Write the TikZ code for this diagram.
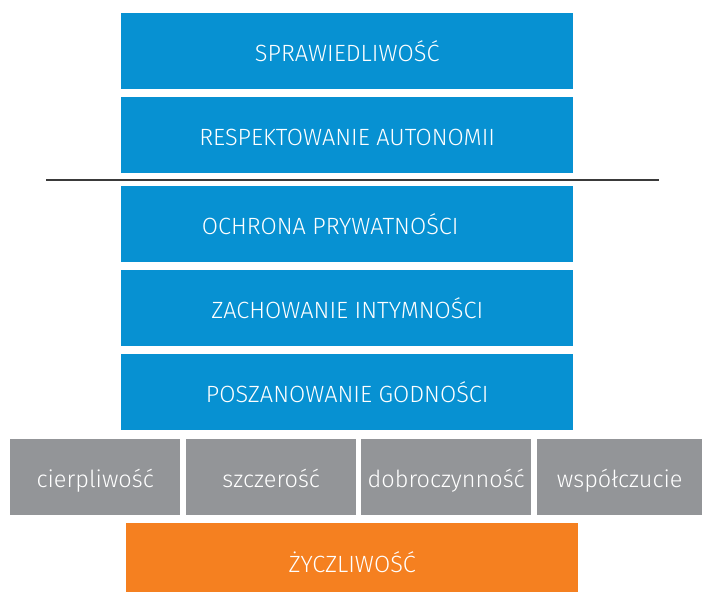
\documentclass[tikz,border=0pt]{standalone}
\usepackage{fontspec}
\setmainfont{Fira Sans Light}
\usepackage{tikz}
\usepackage{xcolor}
\usetikzlibrary{positioning}
\definecolor{Val_Blue}{HTML}{0791D2}
\definecolor{Val_Gray}{HTML}{939598}
\definecolor{Val_Orange}{HTML}{F58020}
\definecolor{Val_Line}{HTML}{3A3A3A}

\begin{document}
\begin{tikzpicture}[x=1pt, y=-1pt,
    value/.style={rectangle, anchor=north west, inner sep=0pt, text=white,
        text height=21pt, text depth=1pt,
        font=\fontsize{23.5}{28}\selectfont},
    bluebox/.style={value, fill=Val_Blue, minimum width=452pt, minimum height=76pt},
    graybox/.style={value, fill=Val_Gray, minimum height=76pt},
    orangebox/.style={value, fill=Val_Orange, minimum width=452pt, minimum height=69pt}]
    \useasboundingbox (0,0) rectangle (702,592);

    % Upper values
    \node[bluebox] (spraw) at (121,13) {SPRAWIEDLIWOŚĆ};
    \node[bluebox] (autonom) at (121,97) {RESPEKTOWANIE AUTONOMII};

    % Divider
    \coordinate (divl) at (46,179.5);
    \coordinate (divr) at (659,179.5);
    \draw[Val_Line, line width=2pt] (divl) -- (divr);

    % Lower values
    \node[bluebox] (prywat) at (121,186) {\hspace*{-34pt}OCHRONA PRYWATNOŚCI};
    \node[bluebox] (intym) at (121,270) {ZACHOWANIE INTYMNOŚCI};
    \node[bluebox] (godn) at (121,354) {POSZANOWANIE GODNOŚCI};

    % Virtues
    \node[graybox, minimum width=170pt] (cierp) at (10,439) {cierpliwość};
    \node[graybox, minimum width=170pt] (szczer) at (186,439) {szczerość};
    \node[graybox, minimum width=170pt] (dobro) at (361,439) {dobroczynność};
    \node[graybox, minimum width=165pt] (wspol) at (537,439) {współczucie};

    % Base
    \node[orangebox, text height=29pt, text depth=0pt] (zycz) at (126,523) {ŻYCZLIWOŚĆ};
\end{tikzpicture}
\end{document}
